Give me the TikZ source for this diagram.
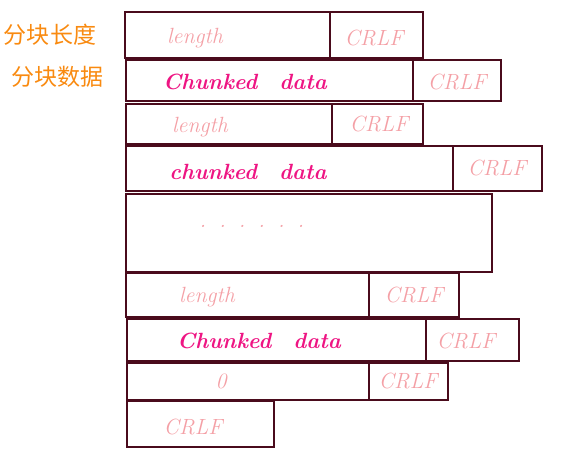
\documentclass[tikz,border=0pt]{standalone}
\usepackage{fontspec}
\newfontfamily\cjk{Noto Sans CJK SC}
\usepackage{xcolor}
\usepackage{tikz}
\definecolor{frame}{HTML}{4A0B1C}
\definecolor{softpink}{HTML}{F4A0A6}
\definecolor{hotpink}{HTML}{EE1583}
\definecolor{tangerine}{HTML}{F98A10}
\tikzset{
  box/.style={draw=frame, line width=2pt},
  lbl/.style={text=softpink, font=\fontsize{22}{24}\selectfont\itshape},
  dat/.style={text=hotpink, font=\fontsize{22}{24}\selectfont\bfseries\itshape},
  tag/.style={text=tangerine, font=\cjk\fontsize{23}{25}\selectfont},
}

\begin{document}
\begin{tikzpicture}[x=1pt,y=-1pt]
\useasboundingbox (0,0) rectangle (562,469);
% side labels
\node[tag] (tlen) at (50,35) {分块长度};
\node[tag] (tdat) at (58,77) {分块数据};
% first chunk
\draw[box] (125,12) rectangle (423,58);
\draw[box] (330,12) -- (330,58);
\node[lbl] (len1) at (195,38) {length};
\node[lbl] (crlf1) at (374,38) {CRLF};
\draw[box] (126,60) rectangle (501,101);
\draw[box] (413,60) -- (413,101);
\node[dat] (dat1) at (245,82) {Chunked\quad data};
\node[lbl] (crlf2) at (457,82) {CRLF};
% second chunk
\draw[box] (126,104) rectangle (423,144);
\draw[box] (332,104) -- (332,144);
\node[lbl] (len2) at (200,127) {length};
\node[lbl] (crlf3) at (379,124) {CRLF};
\draw[box] (126,146) rectangle (542,191);
\draw[box] (453,146) -- (453,191);
\node[dat] (dat2) at (248,172) {chunked\quad data};
\node[lbl] (crlf4) at (497,168) {CRLF};
% more chunks
\draw[box] (126,194) rectangle (492,272);
\node[lbl] (gap) at (252,226) {.\hspace{13pt}.\hspace{13pt}.\hspace{13pt}.\hspace{13pt}.\hspace{13pt}.};
% last chunk
\draw[box] (126,273) rectangle (459,317);
\draw[box] (369,273) -- (369,317);
\node[lbl] (len3) at (207,297) {length};
\node[lbl] (crlf5) at (414,295) {CRLF};
\draw[box] (127,319) rectangle (519,361);
\draw[box] (426,319) -- (426,361);
\node[dat] (dat3) at (259,341) {Chunked\quad data};
\node[lbl] (crlf6) at (466,341) {CRLF};
% terminating chunk
\draw[box] (127,363) rectangle (448,400);
\draw[box] (369,363) -- (369,400);
\node[lbl] (zero) at (221,381) {0};
\node[lbl] (crlf7) at (408,381) {CRLF};
\draw[box] (127,401) rectangle (274,447);
\node[lbl] (crlf8) at (193,427) {CRLF};
\end{tikzpicture}
\end{document}
